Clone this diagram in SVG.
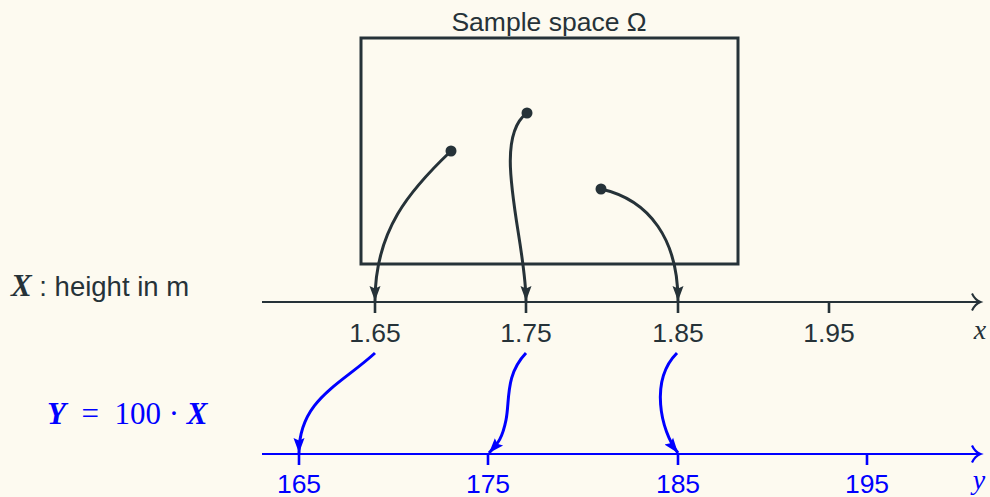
<svg xmlns="http://www.w3.org/2000/svg" width="990" height="497" viewBox="0 0 990 497">
<style>
.dk{stroke:#263238;fill:none}
.bl{stroke:#0000ff;fill:none}
.sans{font-family:"Liberation Sans",Arial,sans-serif}
.serif{font-family:"Liberation Serif","Times New Roman",serif}
.tk{font-size:26.5px;text-anchor:middle}
</style>
<defs>
<marker id="ad" markerUnits="userSpaceOnUse" markerWidth="16" markerHeight="14" viewBox="0 0 16 14" refX="15" refY="7" orient="auto"><path d="M0,1.5 L15,7 L0,12.5 L2.5,7 Z" fill="#263238"/></marker>
<marker id="ab" markerUnits="userSpaceOnUse" markerWidth="16" markerHeight="14" viewBox="0 0 16 14" refX="15" refY="7" orient="auto"><path d="M0,1.5 L15,7 L0,12.5 L2.5,7 Z" fill="#0000ff"/></marker>
</defs>
<rect width="990" height="497" fill="#fdfaf0"/>
<g id="omega">
<rect x="361" y="38" width="377" height="226" class="dk" stroke-width="3"/>
<text x="549" y="31" class="sans" font-size="26.5" fill="#263238" text-anchor="middle">Sample space Ω</text>
</g>
<g id="x-axis">
<line x1="262" y1="302" x2="979" y2="302" class="dk" stroke-width="2"/>
<path d="M972,293.5 Q975,300 980.5,302 Q975,304 972,310.5" class="dk" stroke-width="2"/>
<g class="dk" stroke-width="2.6"><line x1="375" y1="302" x2="375" y2="313"/><line x1="526" y1="302" x2="526" y2="313"/><line x1="678" y1="302" x2="678" y2="313"/><line x1="829" y1="302" x2="829" y2="313"/></g>
<g class="sans tk" fill="#263238"><text x="375" y="342">1.65</text><text x="526" y="342">1.75</text><text x="678" y="342">1.85</text><text x="829" y="342">1.95</text></g>
<text x="980" y="339" class="serif" font-style="italic" font-size="28" fill="#263238" text-anchor="middle">x</text>
</g>
<g id="y-axis">
<line x1="262" y1="454" x2="979" y2="454" class="bl" stroke-width="2.2"/>
<path d="M972,445.5 Q975,452 980.5,454 Q975,456 972,462.5" class="bl" stroke-width="2.2"/>
<g class="bl" stroke-width="2.6"><line x1="299" y1="454" x2="299" y2="465"/><line x1="488" y1="454" x2="488" y2="465"/><line x1="678" y1="454" x2="678" y2="465"/><line x1="867" y1="454" x2="867" y2="465"/></g>
<g class="sans tk" fill="#0000ff"><text x="299" y="493">165</text><text x="488" y="493">175</text><text x="678" y="493">185</text><text x="867" y="493">195</text></g>
<text x="979" y="489" class="serif" font-style="italic" font-size="28" fill="#0000ff" text-anchor="middle">y</text>
</g>
<g id="label-x">
<text x="11" y="296" fill="#263238"><tspan class="serif" font-size="31" font-weight="bold" font-style="italic">X</tspan><tspan class="sans" font-size="27.5"> : height in m</tspan></text>
</g>
<g id="label-y">
<text x="47" y="424" class="serif" font-size="31" fill="#0000ff" xml:space="preserve"><tspan font-weight="bold" font-style="italic">Y</tspan>  =  100 · <tspan font-weight="bold" font-style="italic">X</tspan></text>
</g>
<g id="points" fill="#263238">
<circle cx="451" cy="151" r="5.5"/><circle cx="527" cy="113" r="5.5"/><circle cx="601" cy="189" r="5.5"/>
</g>
<g id="connectors">
<g class="dk" stroke-width="3" marker-end="url(#ad)">
<path d="M451,151 C410,190 375,230 375,301"/>
<path d="M527,113 C490,140 526,240 526,301"/>
<path d="M601,189 C650,200 678,240 678,301"/>
</g>
<g class="bl" stroke-width="3" marker-end="url(#ab)">
<path d="M375,353 C340,385 299,400 299,453"/>
<path d="M526,353 C505,375 510,400 506,420 C502,440 497,444 489,453"/>
<path d="M677,353 C650,380 660,430 678,453"/>
</g>
</g>
</svg>
